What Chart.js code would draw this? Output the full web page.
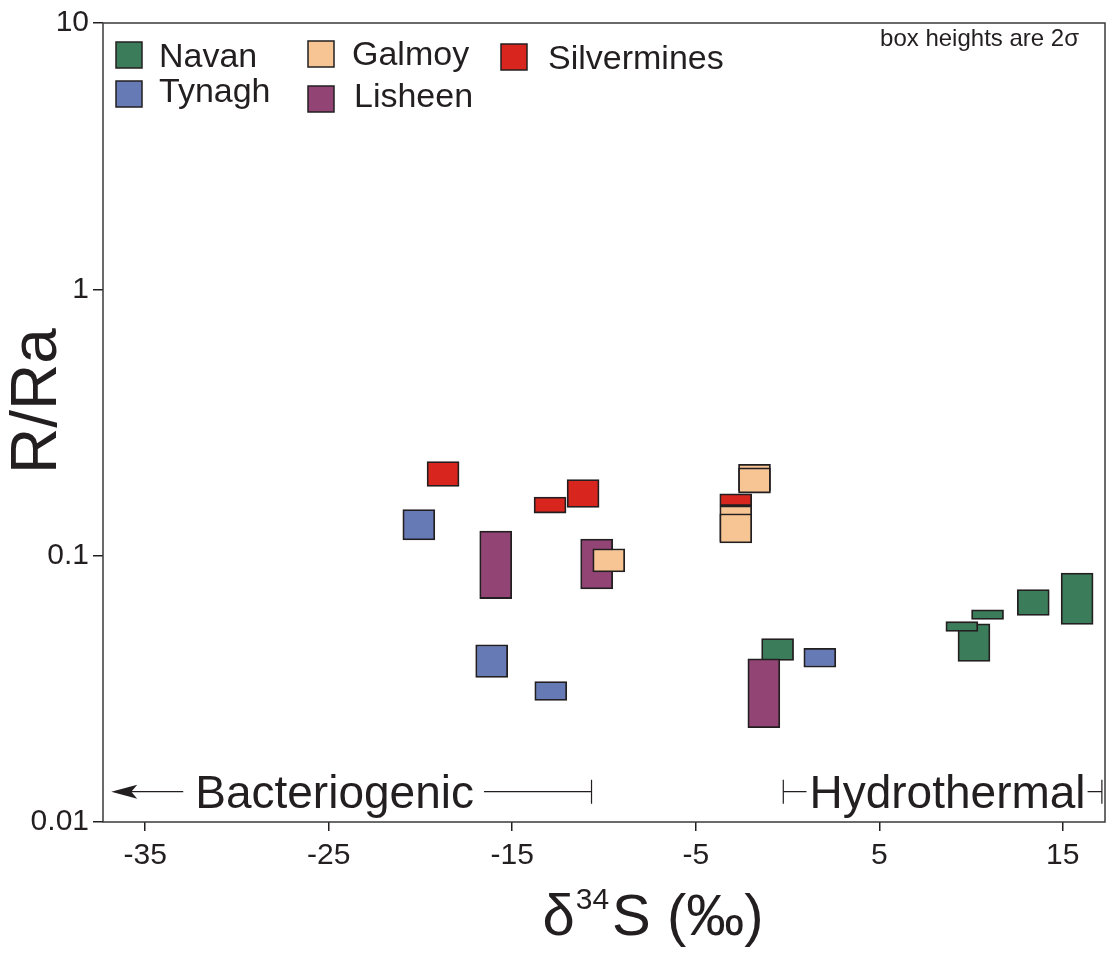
<!DOCTYPE html>
<html>
<head>
<meta charset="utf-8">
<script src="https://cdn.jsdelivr.net/npm/chart.js@4.4.1/dist/chart.umd.min.js"></script>
<style>
    html, body { margin: 0; padding: 0; background: #ffffff; }
    #wrap { width: 1109px; height: 958px; }
</style>
</head>
<body>
<div id="wrap"><canvas id="chart" width="1109" height="958"></canvas></div>
<script>
// Оси
const X_TICKS = [-35, -25, -15, -5, 5, 15];
const Y_TICKS = [0.01, 0.1, 1, 10];
const X_MIN = -37.3, X_MAX = 17.3;

// Боксы: центр по δ34S, нижняя и верхняя граница R/Ra (2σ)
const navanX    = [-0.54, 10.16, 9.5, 10.9, 13.39, 15.78];
const navanLow  = [0.0404, 0.0401, 0.0519, 0.0576, 0.0596, 0.0552];
const navanHigh = [0.0488, 0.0555, 0.0565, 0.0626, 0.0746, 0.0861];

const tynaghX    = [-20.09, -16.12, -12.9, 1.76];
const tynaghLow  = [0.1145, 0.0349, 0.0286, 0.0381];
const tynaghHigh = [0.149, 0.0463, 0.0337, 0.0449];

const galmoyX    = [-9.74, -1.8, -1.8, -2.82, -2.82];
const galmoyLow  = [0.0869, 0.175, 0.1718, 0.113, 0.1116];
const galmoyHigh = [0.1062, 0.2204, 0.2136, 0.1539, 0.1437];

const lisheenX    = [-15.9, -10.4, -1.29];
const lisheenLow  = [0.069, 0.075, 0.0226];
const lisheenHigh = [0.1238, 0.1155, 0.041];

const silverX    = [-18.77, -12.94, -11.14, -2.82];
const silverLow  = [0.1818, 0.1445, 0.1517, 0.1539];
const silverHigh = [0.2256, 0.166, 0.193, 0.1707];

// Аннотации внизу
const BACT_FROM = -36.85, BACT_TO = -10.68, BACT_LABEL_X = -24.68;
const HYDRO_FROM = -0.23, HYDRO_TO = 17.13, HYDRO_LABEL_X = 8.72;
const ANNOT_Y = 0.013;

const FONT = '"Liberation Sans", Arial, sans-serif';
const INK = '#231f20';

function boxes(xs, lo, hi) {
    return xs.map((x, i) => ({ x: x, y: [lo[i], hi[i]] }));
}

function makeSet(label, xs, lo, hi, color, order) {
    return {
        label: label,
        data: boxes(xs, lo, hi),
        backgroundColor: color,
        borderColor: INK,
        borderWidth: 1.8,
        borderSkipped: false,
        barThickness: 32,
        grouped: false,
        order: order
    };
}

// Легенда в три колонки, как на рисунке
const legendLayout = {
    'Navan':       { sq: [116, 42], tx: [159, 67] },
    'Tynagh':      { sq: [116, 81], tx: [159, 102] },
    'Galmoy':      { sq: [308, 41], tx: [352, 65] },
    'Lisheen':     { sq: [308, 86], tx: [354, 107] },
    'Silvermines': { sq: [501, 44], tx: [548, 69] }
};

const decorPlugin = {
    id: 'decor',
    afterDatasetsDraw(chart) {
        const ctx = chart.ctx;
        const a = chart.chartArea;
        const xs = chart.scales.x;
        const ys = chart.scales.y;
        ctx.save();

        // рамка
        ctx.strokeStyle = '#3a3a3a';
        ctx.lineWidth = 1.5;
        ctx.strokeRect(a.left, a.top, a.right - a.left, a.bottom - a.top);

        // легенда
        chart.data.datasets.forEach(ds => {
            const l = legendLayout[ds.label];
            ctx.fillStyle = ds.backgroundColor;
            ctx.fillRect(l.sq[0], l.sq[1], 26, 26);
            ctx.strokeStyle = INK;
            ctx.lineWidth = 1.5;
            ctx.strokeRect(l.sq[0], l.sq[1], 26, 26);
            ctx.fillStyle = INK;
            ctx.font = '34px ' + FONT;
            ctx.textAlign = 'left';
            ctx.textBaseline = 'alphabetic';
            ctx.fillText(ds.label, l.tx[0], l.tx[1]);
        });

        ctx.font = '24px ' + FONT;
        ctx.textAlign = 'right';
        ctx.fillText('box heights are 2\u03c3', a.right - 26, 46);

        // Bacteriogenic / Hydrothermal
        ctx.strokeStyle = INK;
        ctx.lineWidth = 1.2;
        ctx.font = '46px ' + FONT;
        ctx.textAlign = 'center';

        const by = ys.getPixelForValue(ANNOT_Y);
        const b0 = xs.getPixelForValue(BACT_FROM), b1 = xs.getPixelForValue(BACT_TO);
        const bl = xs.getPixelForValue(BACT_LABEL_X);
        const bw = ctx.measureText('Bacteriogenic').width;
        ctx.beginPath();
        ctx.moveTo(b0 + 10, by); ctx.lineTo(bl - bw / 2 - 12, by);
        ctx.moveTo(bl + bw / 2 + 10, by); ctx.lineTo(b1, by);
        ctx.moveTo(b1, by - 12); ctx.lineTo(b1, by + 12);
        ctx.stroke();
        ctx.beginPath();
        ctx.moveTo(b0, by);
        ctx.lineTo(b0 + 26, by - 7);
        ctx.lineTo(b0 + 20, by);
        ctx.lineTo(b0 + 26, by + 7);
        ctx.closePath();
        ctx.fillStyle = INK;
        ctx.fill();
        ctx.fillText('Bacteriogenic', bl, by + 16);

        const h0 = xs.getPixelForValue(HYDRO_FROM), h1 = xs.getPixelForValue(HYDRO_TO);
        const hl = xs.getPixelForValue(HYDRO_LABEL_X);
        const hw = ctx.measureText('Hydrothermal').width;
        ctx.beginPath();
        ctx.moveTo(h0, by - 12); ctx.lineTo(h0, by + 12);
        ctx.moveTo(h0, by); ctx.lineTo(hl - hw / 2 - 3, by);
        ctx.moveTo(hl + hw / 2 + 2, by); ctx.lineTo(h1, by);
        ctx.moveTo(h1, by - 12); ctx.lineTo(h1, by + 12);
        ctx.stroke();
        ctx.fillText('Hydrothermal', hl, by + 16);

        // подпись оси Y
        ctx.save();
        ctx.translate(38, 401);
        ctx.rotate(-Math.PI / 2);
        ctx.font = '64px ' + FONT;
        ctx.textAlign = 'center';
        ctx.textBaseline = 'middle';
        ctx.fillText('R/Ra', 0, 0);
        ctx.restore();

        // подпись оси X с верхним индексом
        ctx.textAlign = 'left';
        ctx.textBaseline = 'alphabetic';
        const big = '58px ' + FONT, small = '30px ' + FONT;
        ctx.font = big; const w1 = ctx.measureText('\u03b4').width;
        ctx.font = small; const w2 = ctx.measureText('34').width;
        ctx.font = big; const w3 = ctx.measureText('S (\u2030)').width;
        let tx = 653 - (w1 + w2 + w3 + 4) / 2;
        ctx.font = big; ctx.fillText('\u03b4', tx, 935); tx += w1 + 1;
        ctx.font = small; ctx.fillText('34', tx, 909); tx += w2 + 3;
        ctx.font = big; ctx.fillText('S (\u2030)', tx, 935);

        ctx.restore();
    }
};

const chart = new Chart(document.getElementById('chart').getContext('2d'), {
    type: 'bar',
    data: {
        datasets: [
            makeSet('Navan', navanX, navanLow, navanHigh, '#3b7d5a', 4),
            makeSet('Tynagh', tynaghX, tynaghLow, tynaghHigh, '#667ab6', 3),
            makeSet('Galmoy', galmoyX, galmoyLow, galmoyHigh, '#f7c594', 1),
            makeSet('Lisheen', lisheenX, lisheenLow, lisheenHigh, '#924475', 2),
            makeSet('Silvermines', silverX, silverLow, silverHigh, '#d8261e', 0)
        ]
    },
    options: {
        responsive: false,
        animation: false,
        layout: { padding: { top: 23, right: 4, left: 0, bottom: 0 } },
        plugins: {
            legend: { display: false },
            tooltip: { enabled: false }
        },
        scales: {
            x: {
                type: 'linear',
                min: X_MIN,
                max: X_MAX,
                offset: false,
                afterBuildTicks: s => { s.ticks = X_TICKS.map(v => ({ value: v })); },
                afterFit: s => { s.height = 136; },
                grid: { offset: false, drawOnChartArea: false, tickLength: 9, color: INK, lineWidth: 1.5 },
                border: { display: false },
                ticks: {
                    color: INK,
                    padding: 7,
                    maxRotation: 0,
                    font: { family: FONT, size: 30 },
                    callback: v => String(v)
                }
            },
            y: {
                type: 'logarithmic',
                min: 0.01,
                max: 10,
                afterBuildTicks: s => { s.ticks = Y_TICKS.map(v => ({ value: v })); },
                afterFit: s => { s.width = 103; },
                grid: { drawOnChartArea: false, tickLength: 10, color: INK, lineWidth: 1.5 },
                border: { display: false },
                ticks: {
                    color: INK,
                    padding: 4,
                    font: { family: FONT, size: 30 },
                    callback: v => String(v)
                }
            }
        }
    },
    plugins: [decorPlugin]
});
</script>
</body>
</html>
